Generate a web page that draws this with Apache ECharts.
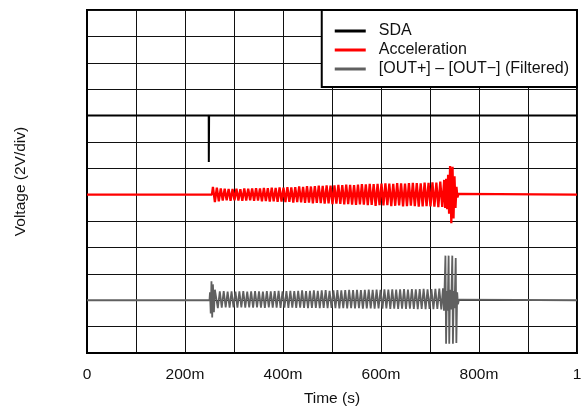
<!DOCTYPE html>
<html>
<head>
<meta charset="utf-8">
<script src="https://cdn.jsdelivr.net/npm/echarts@6/dist/echarts.min.js"></script>
<style>html,body{margin:0;padding:0;background:#fff;}#c{width:588px;height:407px;}</style>
</head>
<body>
<div id="c"></div>
<script>
// ---- data (time in s, voltage in divisions of 2V) ----
const seriesNames = ['SDA', 'Acceleration', '[OUT+] \u2013 [OUT\u2212] (Filtered)'];
const xTickLabels = ['0', '', '200m', '', '400m', '', '600m', '', '800m', '', '1'];

// SDA trace: level 9 div, single short pulse at ~250m
const sdaTime  = [0, 0.2484, 0.2486, 0.2490, 0.2492, 1];
const sdaValue = [9, 9, 7.24, 7.24, 9, 9];

// Acceleration trace: baseline 6 div
const accelBase = 6;
const accelOscStart = 0.257;
const accelOscStep = 0.004;
const accelOsc = [
  0.30,-0.28,0.27,-0.25,0.24,-0.22,0.23,-0.21,0.22,-0.23,
  0.22,-0.21,0.23,-0.22,0.21,-0.23,0.24,-0.22,0.23,-0.21,
  0.24,-0.23,0.25,-0.22,0.24,-0.25,0.26,-0.24,0.25,-0.26,
  0.27,-0.25,0.26,-0.27,0.28,-0.26,0.27,-0.28,0.29,-0.27,
  0.28,-0.30,0.29,-0.28,0.31,-0.29,0.30,-0.31,0.32,-0.30,
  0.31,-0.33,0.32,-0.31,0.34,-0.32,0.33,-0.34,0.35,-0.33,
  0.34,-0.36,0.35,-0.34,0.37,-0.35,0.36,-0.37,0.38,-0.36,
  0.37,-0.38,0.36,-0.39,0.38,-0.37,0.40,-0.38,0.39,-0.40,
  0.41,-0.39,0.40,-0.42,0.41,-0.40,0.42,-0.41,0.43,-0.40,
  0.42,-0.43,0.41,-0.42,0.44,-0.41,0.43,-0.44,0.42,-0.43,
  0.44,-0.42,0.45,-0.43,0.44,-0.45,0.43,-0.44,0.46,-0.43,
  0.45,-0.44,0.47,-0.45,0.46,-0.47,0.50,-0.46
];
const accelBurstTime  = [0.729, 0.731, 0.733, 0.735, 0.737, 0.739, 0.741, 0.7435, 0.746, 0.748, 0.750, 0.752, 0.754, 0.756, 0.758];
const accelBurstValue = [0.56, -0.50, 0.60, -0.55, 0.75, -0.72, 1.09, -1.08, 1.06, -0.90, 0.70, -0.50, 0.30, -0.10, 0.03];

// Filtered output trace: baseline 2 div
const outBase = 2;
const outStartTime  = [0.251, 0.2525, 0.254, 0.2555, 0.257, 0.259, 0.261];
const outStartValue = [0.30, -0.50, 0.72, -0.65, 0.60, -0.45, 0.40];
const outOscStart = 0.263;
const outOscStep = 0.004;
const outOsc = [
  0.36,-0.30,0.34,-0.28,0.35,-0.27,0.33,-0.28,0.34,-0.27,
  0.33,-0.28,0.34,-0.27,0.35,-0.28,0.33,-0.27,0.34,-0.28,
  0.35,-0.27,0.34,-0.28,0.33,-0.29,0.35,-0.27,0.34,-0.28,
  0.35,-0.28,0.36,-0.29,0.34,-0.28,0.35,-0.29,0.36,-0.28,
  0.35,-0.29,0.36,-0.28,0.37,-0.29,0.35,-0.30,0.36,-0.29,
  0.37,-0.29,0.36,-0.30,0.37,-0.29,0.38,-0.30,0.36,-0.29,
  0.37,-0.30,0.38,-0.31,0.37,-0.30,0.38,-0.31,0.39,-0.30,
  0.38,-0.31,0.39,-0.30,0.38,-0.32,0.39,-0.31,0.40,-0.31,
  0.39,-0.32,0.40,-0.31,0.39,-0.32,0.41,-0.31,0.40,-0.33,
  0.41,-0.32,0.40,-0.33,0.41,-0.32,0.42,-0.33,0.40,-0.32,
  0.42,-0.33,0.41,-0.34,0.42,-0.33,0.43,-0.34,0.41,-0.33,
  0.42,-0.34,0.43,-0.33,0.44,-0.35
];
const outBurstTime  = [0.7265, 0.7285, 0.7315, 0.7328, 0.7345, 0.736, 0.7380, 0.7393, 0.741, 0.743, 0.7455, 0.7468, 0.7485, 0.750, 0.7525, 0.7538, 0.7555, 0.757, 0.759];
const outBurstValue = [0.45, -0.40, 1.69, -1.65, 0.35, -0.40, 1.69, -1.65, 0.40, -0.35, 1.69, -1.65, 0.35, -0.30, 1.60, -1.62, 0.30, -0.15, 0.02];

// ---- build series data ----
function pairs(ts, vs, base) { return ts.map((t, i) => [t, base + vs[i]]); }
function osc(start, step, vs, base) { return vs.map((v, i) => [start + i * step, base + v]); }

const sdaData = pairs(sdaTime, sdaValue, 0);
const accelData = [[0, accelBase], [accelOscStart - 0.002, accelBase]]
  .concat(osc(accelOscStart, accelOscStep, accelOsc, accelBase))
  .concat(pairs(accelBurstTime, accelBurstValue, accelBase))
  .concat([[1, accelBase]]);
const outData = [[0, outBase], [outStartTime[0] - 0.001, outBase]]
  .concat(pairs(outStartTime, outStartValue, outBase))
  .concat(osc(outOscStart, outOscStep, outOsc, outBase))
  .concat(pairs(outBurstTime, outBurstValue, outBase))
  .concat([[1, outBase]]);

const FONT = '"Liberation Sans", Arial, Helvetica, sans-serif';
const chart = echarts.init(document.getElementById('c'), null, {renderer: 'canvas'});
chart.setOption({
  animation: false,
  backgroundColor: '#fff',
  grid: { left: 87, right: 11, top: 10, bottom: 54, outerBoundsMode: 'none', containLabel: false,
    show: true, borderColor: '#000', borderWidth: 2, backgroundColor: '#fff' },
  legend: {
    orient: 'vertical', right: 11, top: 10,
    backgroundColor: '#fff', borderColor: '#000', borderWidth: 2,
    padding: [13, 8, 10, 13], itemGap: 3,
    itemWidth: 31, itemHeight: 3, icon: 'rect',
    textStyle: { fontFamily: FONT, fontSize: 16, color: '#111', padding: [0, 0, 0, 8] },
    data: seriesNames
  },
  xAxis: {
    type: 'value', min: 0, max: 1, interval: 0.1,
    name: 'Time (s)', nameLocation: 'middle', nameGap: 38,
    nameTextStyle: { fontFamily: FONT, fontSize: 15.5, color: '#111' },
    axisLine: { show: true, lineStyle: { color: '#000', width: 2 } },
    axisTick: { show: false },
    axisLabel: { margin: 14, fontFamily: FONT, fontSize: 15.5, color: '#111',
      formatter: v => xTickLabels[Math.round(v * 10)] || '' },
    splitLine: { show: true, lineStyle: { color: '#111', width: 1 } }
  },
  yAxis: {
    type: 'value', min: 0, max: 13, interval: 1,
    name: 'Voltage (2V/div)', nameLocation: 'middle', nameGap: 58,
    nameTextStyle: { fontFamily: FONT, fontSize: 15.5, color: '#111' },
    axisLine: { show: true, lineStyle: { color: '#000', width: 2 } },
    axisTick: { show: false },
    axisLabel: { show: false },
    splitLine: { show: true, lineStyle: { color: '#111', width: 1 } }
  },
  series: [
    { name: seriesNames[0], type: 'line', data: sdaData, showSymbol: false, color: '#000',
      lineStyle: { color: '#000', width: 2 }, z: 3 },
    { name: seriesNames[1], type: 'line', data: accelData, showSymbol: false, color: '#ff0000',
      lineStyle: { color: '#ff0000', width: 2.3 }, z: 4 },
    { name: seriesNames[2], type: 'line', data: outData, showSymbol: false, color: '#606060',
      lineStyle: { color: '#606060', width: 1.8 }, z: 5 }
  ]
});
</script>
</body>
</html>
